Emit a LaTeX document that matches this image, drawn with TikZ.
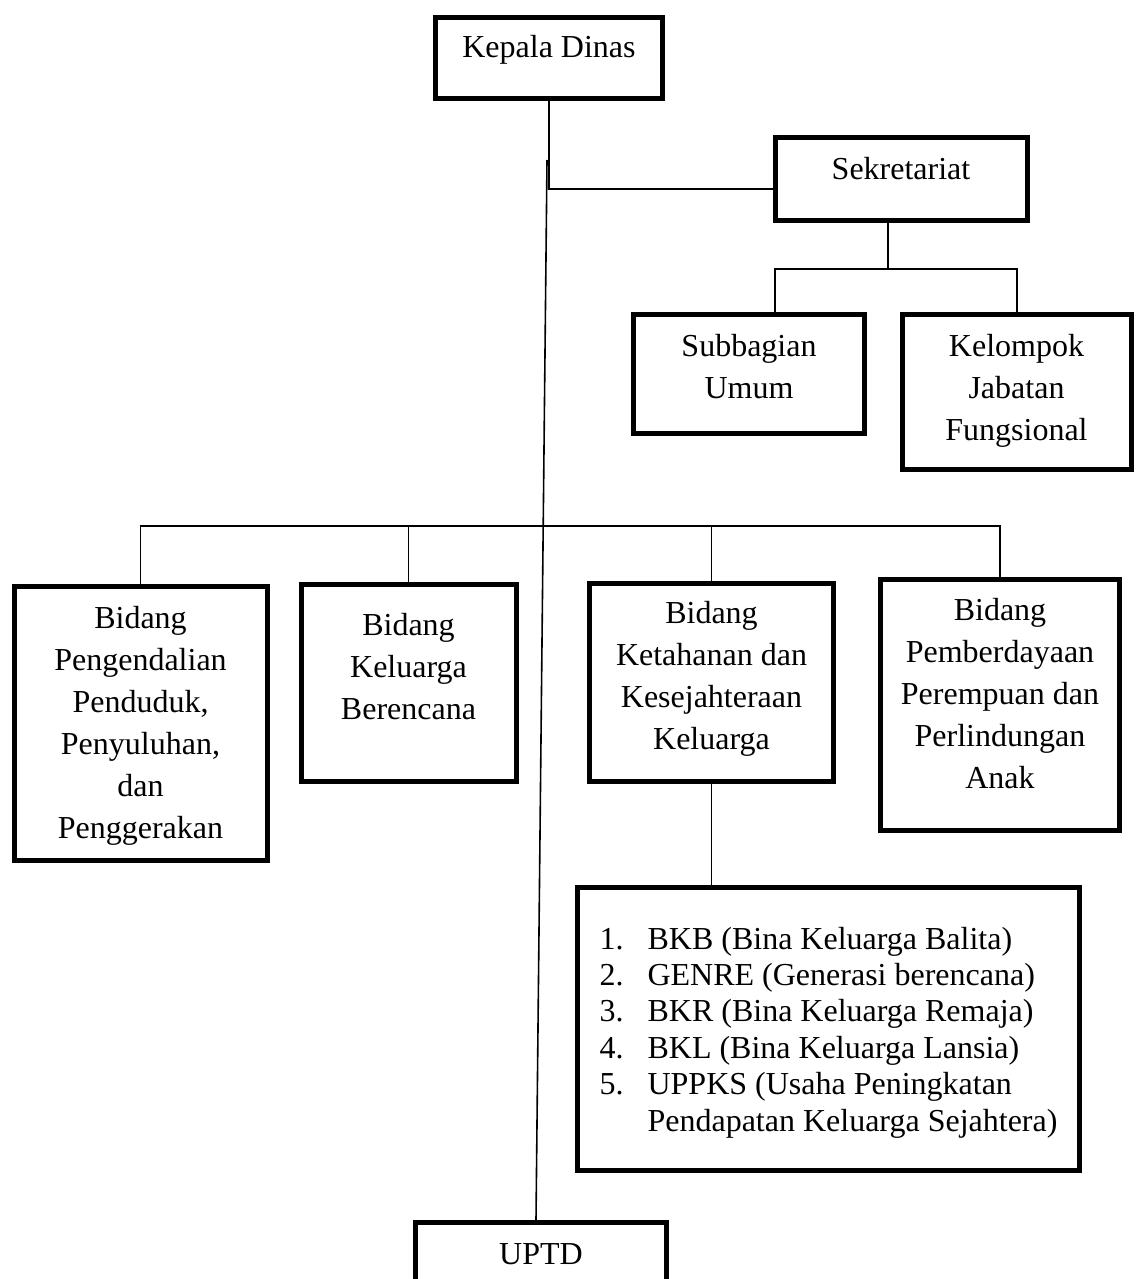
\documentclass[tikz,border=0pt]{standalone}
\usepackage{fontspec}
\setmainfont{Liberation Serif}
\newcommand{\mlines}[1]{\begin{tabular}[t]{@{}c@{}}#1\end{tabular}}
\begin{document}
\begin{tikzpicture}[x=0.5pt,y=-0.5pt,
  orgbox/.style={draw=black,line width=2.5pt,rectangle,inner sep=0pt,anchor=north,
    font=\fontsize{16}{21}\selectfont},
  conn/.style={draw=black,line width=0.8pt}]
\useasboundingbox (0,0) rectangle (1135,1279);
\node[orgbox,minimum width=113.5pt,text height=20pt,text depth=20.5pt] (kd) at (549,15) {\mlines{Kepala Dinas}};
\node[orgbox,minimum width=126pt,text height=21pt,text depth=20.5pt] (sek) at (901,135) {\mlines{Sekretariat}};
\node[orgbox,minimum width=115.5pt,text height=21pt,text depth=38.5pt] (sub) at (749,312) {\mlines{Subbagian\\Umum}};
\node[orgbox,minimum width=114.5pt,text height=21pt,text depth=56.5pt] (kel) at (1016.5,312) {\mlines{Kelompok\\Jabatan\\Fungsional}};
\node[orgbox,minimum width=126.5pt,text height=21pt,text depth=116pt] (b1) at (140.5,584) {\mlines{Bidang\\Pengendalian\\Penduduk,\\Penyuluhan,\\dan\\Penggerakan}};
\node[orgbox,minimum width=107.5pt,text height=25.5pt,text depth=73pt] (b2) at (408.5,582) {\mlines{Bidang\\Keluarga\\Berencana}};
\node[orgbox,minimum width=122pt,text height=20pt,text depth=79pt] (b3) at (711.5,580.5) {\mlines{Bidang\\Ketahanan dan\\Kesejahteraan\\Keluarga}};
\node[orgbox,minimum width=119.5pt,text height=20.5pt,text depth=105pt] (b4) at (1000,576.5) {\mlines{Bidang\\Pemberdayaan\\Perempuan dan\\Perlindungan\\Anak}};
\node[orgbox,minimum width=251pt,text height=31pt,text depth=110.5pt,
  font=\fontsize{16}{18.2}\selectfont] (list) at (828.5,884.5) {%
  \begin{tabular}[t]{@{}l@{}}
  \makebox[24pt][l]{1.}BKB (Bina Keluarga Balita)\\
  \makebox[24pt][l]{2.}GENRE (Generasi berencana)\\
  \makebox[24pt][l]{3.}BKR (Bina Keluarga Remaja)\\
  \makebox[24pt][l]{4.}BKL (Bina Keluarga Lansia)\\
  \makebox[24pt][l]{5.}UPPKS (Usaha Peningkatan\\
  \hspace*{24pt}Pendapatan Keluarga Sejahtera)
  \end{tabular}};
\node[orgbox,minimum width=125.5pt,text height=21pt,text depth=40pt] (uptd) at (541,1220) {\mlines{UPTD}};
% connectors
\coordinate (j1) at (549,189);
\coordinate (s1) at (547,160);
\coordinate (j2) at (888,269);
\coordinate (ja) at (775,269);
\coordinate (jb) at (1017,269);
\coordinate (h1) at (140,526);
\draw[conn] (kd.south) -- (j1) -- (j1 -| sek.west);
\draw[conn] (s1) -- ([xshift=-2.5pt]uptd.north);
\draw[conn] (sek.south -| j2) -- (j2);
\draw[conn] (sub.north -| ja) -- (ja) -- (jb) -- (kel.north -| jb);
\draw[conn] (b1.north) -- (b1.north |- h1) -- (b4.north |- h1) -- (b4.north);
\draw[conn] (b2.north) -- (b2.north |- h1);
\draw[conn] (b3.north) -- (b3.north |- h1);
\draw[conn] (b3.south) -- (list.north -| b3.south);
\end{tikzpicture}
\end{document}
